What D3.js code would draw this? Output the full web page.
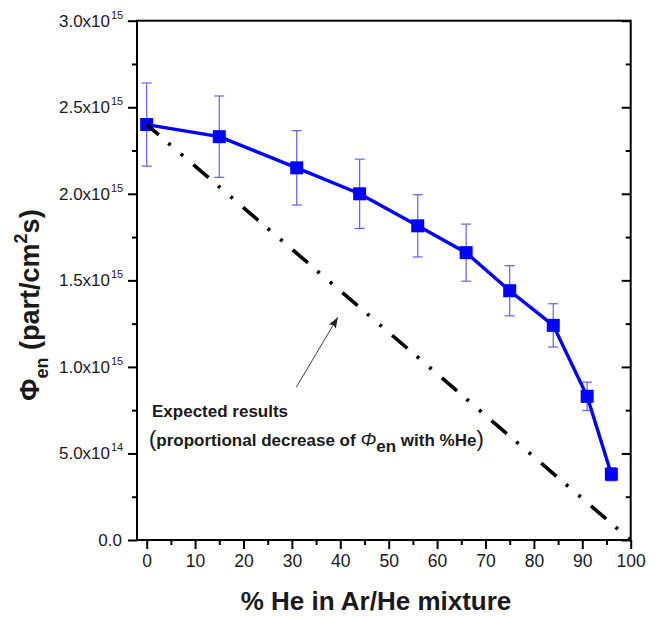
<!DOCTYPE html>
<html>
<head>
<meta charset="utf-8">
<script src="https://cdn.jsdelivr.net/npm/d3@7"></script>
<style>
  html, body { margin: 0; padding: 0; background: #fff; }
  svg { display: block; font-family: "Liberation Sans", Arial, sans-serif; }
</style>
</head>
<body>
<svg id="chart" width="661" height="618"></svg>
<script>
// Helium fraction in the Ar/He mixture (%)
const heFraction = [0, 15, 31, 44, 56, 66, 75, 84, 91, 96];
// Measured flux, in units of 1e15 part/(cm^2 s)
const fluxValues = [2.40, 2.33, 2.15, 2.00, 1.815, 1.66, 1.44, 1.24, 0.83, 0.38];
// Error bar half-widths, same units
const fluxErrors = [0.24, 0.235, 0.215, 0.20, 0.18, 0.165, 0.145, 0.125, 0.082, 0.038];
// Proportional-decrease reference line (endpoints)
const expectedX = [0, 100];
const expectedY = [2.40, 0];
// Axis ticks
const xTicks = [0, 10, 20, 30, 40, 50, 60, 70, 80, 90, 100];
const yTicks = [0, 0.5, 1.0, 1.5, 2.0, 2.5, 3.0];
const yTickLabels = [["0.0", ""], ["5.0x10", "14"], ["1.0x10", "15"], ["1.5x10", "15"],
                     ["2.0x10", "15"], ["2.5x10", "15"], ["3.0x10", "15"]];
// Arrow annotation (data coordinates: tail, head)
const arrowTail = [30.9, 0.882];
const arrowHead = [39.5, 1.287];

const svg = d3.select("#chart");
const plotLeft = 137, plotRight = 630.7, plotTop = 20.7, plotBottom = 540;

const x = d3.scaleLinear().domain([-2, 100]).range([plotLeft, plotRight]);
const y = d3.scaleLinear().domain([0, 3.0]).range([plotBottom, plotTop]);

const BLUE = "#0000ff";
const ERR = "#6060ff";
const INK = "#1a1a1a";

// Frame
svg.append("rect")
  .attr("x", plotLeft).attr("y", plotTop)
  .attr("width", plotRight - plotLeft).attr("height", plotBottom - plotTop)
  .attr("fill", "none").attr("stroke", "#000").attr("stroke-width", 2);

const minorY = d3.range(0.25, 3.0, 0.5);
const minorX = d3.range(5, 100, 10);

// Left axis
const gl = svg.append("g").attr("transform", `translate(${plotLeft},0)`);
gl.call(d3.axisLeft(y).tickValues(yTicks).tickSize(9).tickFormat(""));
gl.append("g").call(d3.axisLeft(y).tickValues(minorY).tickSize(5).tickFormat(""));
gl.selectAll(".domain").remove();
gl.selectAll("line").attr("stroke", "#000").attr("stroke-width", 2);

// Left tick labels with superscripted exponents
yTicks.forEach((v, i) => {
  const [base, exp] = yTickLabels[i];
  svg.append("text")
    .attr("x", exp ? 110 : 122)
    .attr("y", y(v) + 6)
    .attr("text-anchor", "end")
    .attr("font-size", 17).attr("fill", INK)
    .text(base);
  if (exp) {
    svg.append("text")
      .attr("x", 111).attr("y", y(v) - 2)
      .attr("font-size", 11).attr("fill", INK)
      .text(exp);
  }
});

// Right axis (inward ticks, no labels)
const gr = svg.append("g").attr("transform", `translate(${plotRight},0)`);
gr.call(d3.axisLeft(y).tickValues(yTicks).tickSize(9).tickFormat(""));
gr.append("g").call(d3.axisLeft(y).tickValues(minorY).tickSize(5).tickFormat(""));
gr.selectAll(".domain").remove();
gr.selectAll("line").attr("stroke", "#000").attr("stroke-width", 2);

// Bottom axis
const gb = svg.append("g").attr("transform", `translate(0,${plotBottom})`);
gb.call(d3.axisBottom(x).tickValues(xTicks).tickSize(9).tickPadding(6).tickFormat(d3.format("d")));
gb.append("g").call(d3.axisBottom(x).tickValues(minorX).tickSize(5).tickFormat(""));
gb.selectAll(".domain").remove();
gb.selectAll("line").attr("stroke", "#000").attr("stroke-width", 2);
gb.selectAll("text").attr("font-size", 17.5).attr("fill", INK)
  .attr("font-family", "Liberation Sans, Arial, sans-serif");

// Axis titles
svg.append("text")
  .attr("x", 376).attr("y", 610)
  .attr("text-anchor", "middle")
  .attr("font-size", 26).attr("font-weight", "bold").attr("fill", INK)
  .text("% He in Ar/He mixture");

const yt = svg.append("text")
  .attr("transform", "translate(38.5,305) rotate(-90)")
  .attr("text-anchor", "middle")
  .attr("font-size", 27).attr("font-weight", "bold").attr("fill", INK);
yt.append("tspan").text("Φ");
yt.append("tspan").attr("font-size", 18).attr("dy", 9).text("en");
yt.append("tspan").attr("dy", -9).text(" (part/cm");
yt.append("tspan").attr("font-size", 18).attr("dy", -12).text("2");
yt.append("tspan").attr("dy", 12).text("s)");

// Series data
const pts = heFraction.map((h, i) => ({ h, v: fluxValues[i], e: fluxErrors[i] }));

// Error bars
const eb = svg.append("g").attr("stroke", ERR).attr("stroke-width", 1.2).attr("fill", "none");
pts.forEach(p => {
  const cx = x(p.h);
  eb.append("line").attr("x1", cx).attr("x2", cx).attr("y1", y(p.v - p.e)).attr("y2", y(p.v + p.e));
  eb.append("line").attr("x1", cx - 5).attr("x2", cx + 5).attr("y1", y(p.v + p.e)).attr("y2", y(p.v + p.e));
  eb.append("line").attr("x1", cx - 5).attr("x2", cx + 5).attr("y1", y(p.v - p.e)).attr("y2", y(p.v - p.e));
});

// Series line
svg.append("path")
  .datum(pts)
  .attr("fill", "none").attr("stroke", BLUE).attr("stroke-width", 3.4)
  .attr("d", d3.line().x(d => x(d.h)).y(d => y(d.v)));

// Square markers
svg.append("g").selectAll("rect").data(pts).join("rect")
  .attr("x", d => x(d.h) - 6.5).attr("y", d => y(d.v) - 6.5)
  .attr("width", 13).attr("height", 13).attr("fill", BLUE);

// Expected (proportional) decrease: dash-dot-dot line
const expPts = expectedX.map((h, i) => [x(h), y(expectedY[i])]);
svg.append("path")
  .attr("d", d3.line()(expPts))
  .attr("fill", "none").attr("stroke", "#000").attr("stroke-width", 3.6)
  .attr("stroke-dasharray", "20,12.5,3,13.5,3,13.5")
  .attr("stroke-dashoffset", 4);

// Arrow
svg.append("defs").append("marker")
  .attr("id", "arrowhead").attr("viewBox", "0 0 12 10")
  .attr("refX", 12).attr("refY", 5)
  .attr("markerWidth", 12).attr("markerHeight", 9)
  .attr("markerUnits", "userSpaceOnUse")
  .attr("orient", "auto")
  .append("path").attr("d", "M0,0.5 L12,5 L0,9.5 L2,5 Z").attr("fill", "#222");
svg.append("line")
  .attr("x1", x(arrowTail[0])).attr("y1", y(arrowTail[1]))
  .attr("x2", x(arrowHead[0])).attr("y2", y(arrowHead[1]))
  .attr("stroke", "#444").attr("stroke-width", 1)
  .attr("marker-end", "url(#arrowhead)");

// Annotation text
svg.append("text")
  .attr("x", 152).attr("y", 417)
  .attr("font-size", 17).attr("font-weight", "bold").attr("fill", INK)
  .text("Expected results");
const note = svg.append("text")
  .attr("x", 149).attr("y", 446)
  .attr("font-size", 17).attr("font-weight", "bold").attr("fill", INK);
note.append("tspan").attr("font-size", 22).attr("font-weight", "normal").text("(");
note.append("tspan").text("proportional decrease of ");
note.append("tspan").attr("font-size", 19).attr("font-weight", "normal").attr("font-style", "italic").text("Φ");
note.append("tspan").attr("dy", 6).text("en");
note.append("tspan").attr("dy", -6).text(" with %He");
note.append("tspan").attr("font-size", 22).attr("font-weight", "normal").text(")");
</script>
</body>
</html>
